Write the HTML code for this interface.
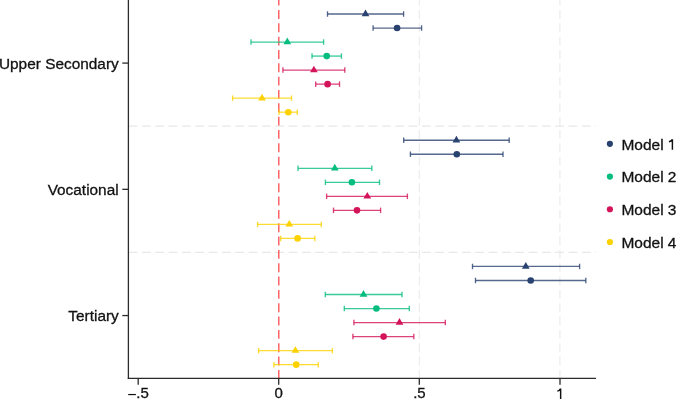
<!DOCTYPE html><html><head><meta charset="utf-8"><style>html,body{margin:0;padding:0;background:#fff;width:685px;height:399px;overflow:hidden}svg{display:block;will-change:transform}text{font-family:"Liberation Sans",sans-serif;fill:#111;stroke:#111;stroke-width:0.3}</style></head><body><svg width="685" height="399" viewBox="0 0 685 399"><line x1="419.4" y1="0" x2="419.4" y2="378" stroke="#ececec" stroke-width="1.2" stroke-dasharray="8.89 4.44" stroke-dashoffset="3.33"/><line x1="559.9" y1="0" x2="559.9" y2="378" stroke="#ececec" stroke-width="1.2" stroke-dasharray="8.89 4.44" stroke-dashoffset="3.33"/><line x1="128.6" y1="126.1" x2="596" y2="126.1" stroke="#e8e8e8" stroke-width="1.2" stroke-dasharray="8.89 4.44"/><line x1="128.6" y1="252.3" x2="596" y2="252.3" stroke="#e8e8e8" stroke-width="1.2" stroke-dasharray="8.89 4.44"/><line x1="278.8" y1="0" x2="278.8" y2="378" stroke="#fd5456" stroke-width="1.35" stroke-dasharray="8.89 4.44" stroke-dashoffset="3.33"/><g stroke="#2a4270" stroke-opacity="0.8"><line x1="327.5" y1="14.0" x2="403.6" y2="14.0" stroke-width="1.3"/><line x1="327.5" y1="11.25" x2="327.5" y2="16.75" stroke-width="1.35"/><line x1="403.6" y1="11.25" x2="403.6" y2="16.75" stroke-width="1.35"/></g><polygon points="365.5,9.55 361.65,16.22 369.35,16.22" fill="#2a4270"/><g stroke="#2a4270" stroke-opacity="0.8"><line x1="373.1" y1="28.03" x2="421.6" y2="28.03" stroke-width="1.3"/><line x1="373.1" y1="25.28" x2="373.1" y2="30.78" stroke-width="1.35"/><line x1="421.6" y1="25.28" x2="421.6" y2="30.78" stroke-width="1.35"/></g><circle cx="397.1" cy="28.03" r="3.3" fill="#2a4270"/><g stroke="#06bd7f" stroke-opacity="0.8"><line x1="251.0" y1="42.05" x2="323.6" y2="42.05" stroke-width="1.3"/><line x1="251.0" y1="39.3" x2="251.0" y2="44.8" stroke-width="1.35"/><line x1="323.6" y1="39.3" x2="323.6" y2="44.8" stroke-width="1.35"/></g><polygon points="287.3,37.60 283.45,44.27 291.15,44.27" fill="#06bd7f"/><g stroke="#06bd7f" stroke-opacity="0.8"><line x1="312.0" y1="56.08" x2="341.4" y2="56.08" stroke-width="1.3"/><line x1="312.0" y1="53.33" x2="312.0" y2="58.83" stroke-width="1.35"/><line x1="341.4" y1="53.33" x2="341.4" y2="58.83" stroke-width="1.35"/></g><circle cx="326.7" cy="56.08" r="3.3" fill="#06bd7f"/><g stroke="#d4145a" stroke-opacity="0.8"><line x1="282.9" y1="70.1" x2="344.8" y2="70.1" stroke-width="1.3"/><line x1="282.9" y1="67.35" x2="282.9" y2="72.85" stroke-width="1.35"/><line x1="344.8" y1="67.35" x2="344.8" y2="72.85" stroke-width="1.35"/></g><polygon points="313.9,65.65 310.05,72.32 317.75,72.32" fill="#d4145a"/><g stroke="#d4145a" stroke-opacity="0.8"><line x1="315.7" y1="84.13" x2="339.5" y2="84.13" stroke-width="1.3"/><line x1="315.7" y1="81.38" x2="315.7" y2="86.88" stroke-width="1.35"/><line x1="339.5" y1="81.38" x2="339.5" y2="86.88" stroke-width="1.35"/></g><circle cx="327.6" cy="84.13" r="3.3" fill="#d4145a"/><g stroke="#fed200" stroke-opacity="0.8"><line x1="232.6" y1="98.16" x2="291.5" y2="98.16" stroke-width="1.3"/><line x1="232.6" y1="95.41" x2="232.6" y2="100.91" stroke-width="1.35"/><line x1="291.5" y1="95.41" x2="291.5" y2="100.91" stroke-width="1.35"/></g><polygon points="262.0,93.71 258.15,100.38 265.85,100.38" fill="#fed200"/><g stroke="#fed200" stroke-opacity="0.8"><line x1="279.0" y1="112.18" x2="297.3" y2="112.18" stroke-width="1.3"/><line x1="279.0" y1="109.43" x2="279.0" y2="114.93" stroke-width="1.35"/><line x1="297.3" y1="109.43" x2="297.3" y2="114.93" stroke-width="1.35"/></g><circle cx="288.3" cy="112.18" r="3.3" fill="#fed200"/><g stroke="#2a4270" stroke-opacity="0.8"><line x1="403.7" y1="140.23" x2="509.2" y2="140.23" stroke-width="1.3"/><line x1="403.7" y1="137.48" x2="403.7" y2="142.98" stroke-width="1.35"/><line x1="509.2" y1="137.48" x2="509.2" y2="142.98" stroke-width="1.35"/></g><polygon points="456.4,135.78 452.55,142.45 460.25,142.45" fill="#2a4270"/><g stroke="#2a4270" stroke-opacity="0.8"><line x1="410.4" y1="154.26" x2="503.0" y2="154.26" stroke-width="1.3"/><line x1="410.4" y1="151.51" x2="410.4" y2="157.01" stroke-width="1.35"/><line x1="503.0" y1="151.51" x2="503.0" y2="157.01" stroke-width="1.35"/></g><circle cx="456.8" cy="154.26" r="3.3" fill="#2a4270"/><g stroke="#06bd7f" stroke-opacity="0.8"><line x1="298.0" y1="168.29" x2="371.8" y2="168.29" stroke-width="1.3"/><line x1="298.0" y1="165.54" x2="298.0" y2="171.04" stroke-width="1.35"/><line x1="371.8" y1="165.54" x2="371.8" y2="171.04" stroke-width="1.35"/></g><polygon points="334.8,163.84 330.95,170.51 338.65,170.51" fill="#06bd7f"/><g stroke="#06bd7f" stroke-opacity="0.8"><line x1="325.4" y1="182.31" x2="379.5" y2="182.31" stroke-width="1.3"/><line x1="325.4" y1="179.56" x2="325.4" y2="185.06" stroke-width="1.35"/><line x1="379.5" y1="179.56" x2="379.5" y2="185.06" stroke-width="1.35"/></g><circle cx="351.9" cy="182.31" r="3.3" fill="#06bd7f"/><g stroke="#d4145a" stroke-opacity="0.8"><line x1="326.6" y1="196.34" x2="407.4" y2="196.34" stroke-width="1.3"/><line x1="326.6" y1="193.59" x2="326.6" y2="199.09" stroke-width="1.35"/><line x1="407.4" y1="193.59" x2="407.4" y2="199.09" stroke-width="1.35"/></g><polygon points="367.3,191.89 363.45,198.56 371.15,198.56" fill="#d4145a"/><g stroke="#d4145a" stroke-opacity="0.8"><line x1="333.5" y1="210.36" x2="380.6" y2="210.36" stroke-width="1.3"/><line x1="333.5" y1="207.61" x2="333.5" y2="213.11" stroke-width="1.35"/><line x1="380.6" y1="207.61" x2="380.6" y2="213.11" stroke-width="1.35"/></g><circle cx="357.0" cy="210.36" r="3.3" fill="#d4145a"/><g stroke="#fed200" stroke-opacity="0.8"><line x1="257.6" y1="224.39" x2="321.3" y2="224.39" stroke-width="1.3"/><line x1="257.6" y1="221.64" x2="257.6" y2="227.14" stroke-width="1.35"/><line x1="321.3" y1="221.64" x2="321.3" y2="227.14" stroke-width="1.35"/></g><polygon points="289.3,219.94 285.45,226.61 293.15,226.61" fill="#fed200"/><g stroke="#fed200" stroke-opacity="0.8"><line x1="280.7" y1="238.42" x2="314.8" y2="238.42" stroke-width="1.3"/><line x1="280.7" y1="235.67" x2="280.7" y2="241.17" stroke-width="1.35"/><line x1="314.8" y1="235.67" x2="314.8" y2="241.17" stroke-width="1.35"/></g><circle cx="297.6" cy="238.42" r="3.3" fill="#fed200"/><g stroke="#2a4270" stroke-opacity="0.8"><line x1="472.5" y1="266.47" x2="579.6" y2="266.47" stroke-width="1.3"/><line x1="472.5" y1="263.72" x2="472.5" y2="269.22" stroke-width="1.35"/><line x1="579.6" y1="263.72" x2="579.6" y2="269.22" stroke-width="1.35"/></g><polygon points="525.8,262.02 521.95,268.69 529.65,268.69" fill="#2a4270"/><g stroke="#2a4270" stroke-opacity="0.8"><line x1="475.5" y1="280.49" x2="585.8" y2="280.49" stroke-width="1.3"/><line x1="475.5" y1="277.74" x2="475.5" y2="283.24" stroke-width="1.35"/><line x1="585.8" y1="277.74" x2="585.8" y2="283.24" stroke-width="1.35"/></g><circle cx="530.7" cy="280.49" r="3.3" fill="#2a4270"/><g stroke="#06bd7f" stroke-opacity="0.8"><line x1="325.3" y1="294.52" x2="402.0" y2="294.52" stroke-width="1.3"/><line x1="325.3" y1="291.77" x2="325.3" y2="297.27" stroke-width="1.35"/><line x1="402.0" y1="291.77" x2="402.0" y2="297.27" stroke-width="1.35"/></g><polygon points="363.5,290.07 359.65,296.74 367.35,296.74" fill="#06bd7f"/><g stroke="#06bd7f" stroke-opacity="0.8"><line x1="344.3" y1="308.55" x2="409.3" y2="308.55" stroke-width="1.3"/><line x1="344.3" y1="305.8" x2="344.3" y2="311.3" stroke-width="1.35"/><line x1="409.3" y1="305.8" x2="409.3" y2="311.3" stroke-width="1.35"/></g><circle cx="376.4" cy="308.55" r="3.3" fill="#06bd7f"/><g stroke="#d4145a" stroke-opacity="0.8"><line x1="353.9" y1="322.57" x2="445.3" y2="322.57" stroke-width="1.3"/><line x1="353.9" y1="319.82" x2="353.9" y2="325.32" stroke-width="1.35"/><line x1="445.3" y1="319.82" x2="445.3" y2="325.32" stroke-width="1.35"/></g><polygon points="399.5,318.12 395.65,324.79 403.35,324.79" fill="#d4145a"/><g stroke="#d4145a" stroke-opacity="0.8"><line x1="352.9" y1="336.6" x2="413.8" y2="336.6" stroke-width="1.3"/><line x1="352.9" y1="333.85" x2="352.9" y2="339.35" stroke-width="1.35"/><line x1="413.8" y1="333.85" x2="413.8" y2="339.35" stroke-width="1.35"/></g><circle cx="383.6" cy="336.6" r="3.3" fill="#d4145a"/><g stroke="#fed200" stroke-opacity="0.8"><line x1="258.6" y1="350.62" x2="332.4" y2="350.62" stroke-width="1.3"/><line x1="258.6" y1="347.87" x2="258.6" y2="353.37" stroke-width="1.35"/><line x1="332.4" y1="347.87" x2="332.4" y2="353.37" stroke-width="1.35"/></g><polygon points="295.4,346.17 291.55,352.84 299.25,352.84" fill="#fed200"/><g stroke="#fed200" stroke-opacity="0.8"><line x1="273.9" y1="364.65" x2="318.3" y2="364.65" stroke-width="1.3"/><line x1="273.9" y1="361.9" x2="273.9" y2="367.4" stroke-width="1.35"/><line x1="318.3" y1="361.9" x2="318.3" y2="367.4" stroke-width="1.35"/></g><circle cx="296.2" cy="364.65" r="3.3" fill="#fed200"/><line x1="128.4" y1="0" x2="128.4" y2="378.9" stroke="#2b2b2b" stroke-width="1.3"/><line x1="127.8" y1="378.4" x2="596" y2="378.4" stroke="#2b2b2b" stroke-width="1.3"/><line x1="122.3" y1="63.09" x2="128.4" y2="63.09" stroke="#2b2b2b" stroke-width="1.3"/><text transform="translate(118.7,68.79) scale(1,0.98)" font-size="15.4" text-anchor="end">Upper Secondary</text><line x1="122.3" y1="189.33" x2="128.4" y2="189.33" stroke="#2b2b2b" stroke-width="1.3"/><text transform="translate(118.65,194.73) scale(1,0.98)" font-size="15.4" text-anchor="end">Vocational</text><line x1="122.3" y1="315.56" x2="128.4" y2="315.56" stroke="#2b2b2b" stroke-width="1.3"/><text transform="translate(118.8,320.96) scale(1,0.98)" font-size="15.4" text-anchor="end">Tertiary</text><line x1="138.2" y1="378.4" x2="138.2" y2="384.8" stroke="#2b2b2b" stroke-width="1.3"/><line x1="278.7" y1="378.4" x2="278.7" y2="384.8" stroke="#2b2b2b" stroke-width="1.3"/><line x1="419.3" y1="378.4" x2="419.3" y2="384.8" stroke="#2b2b2b" stroke-width="1.3"/><line x1="560.0" y1="378.4" x2="560.0" y2="384.8" stroke="#2b2b2b" stroke-width="1.3"/><rect x="128.2" y="393.95" width="7.7" height="1.2" fill="#111"/><text transform="translate(136.3,398.3) scale(1,0.98)" font-size="15.0">.5</text><text transform="translate(278.6,398.3) scale(1,0.98)" font-size="15.0" text-anchor="middle">0</text><text transform="translate(419.4,398.3) scale(1,0.98)" font-size="15.0" text-anchor="middle">.5</text><path d="M560.65,399.5 V388.4 M560.65,388.6 Q559.6,390.9 557.3,391.1" fill="none" stroke="#111" stroke-width="1.45"/><circle cx="609.9" cy="143.80" r="3.1" fill="#2a4270"/><text transform="translate(621.4,149.65) scale(1,0.98)" font-size="15.5">Model </text><path d="M672.4,149.65 V139.20 M672.4,139.40 Q671.4,141.50 668.9,141.80" fill="none" stroke="#111" stroke-width="1.45"/><circle cx="609.9" cy="176.53" r="3.1" fill="#06bd7f"/><text transform="translate(621.4,182.38) scale(1,0.98)" font-size="15.5">Model 2</text><circle cx="609.9" cy="209.26" r="3.1" fill="#d4145a"/><text transform="translate(621.4,215.11) scale(1,0.98)" font-size="15.5">Model 3</text><circle cx="609.9" cy="241.99" r="3.1" fill="#fed200"/><text transform="translate(621.4,247.84) scale(1,0.98)" font-size="15.5">Model 4</text></svg></body></html>
